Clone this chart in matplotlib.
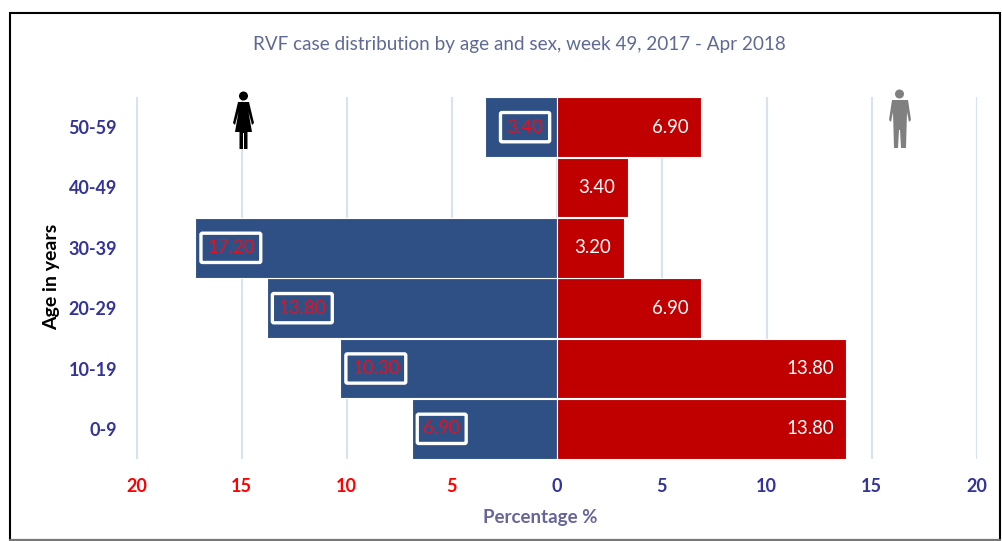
import matplotlib
matplotlib.use('Agg')
from matplotlib import pyplot as plt
from matplotlib.patches import Rectangle, Polygon, Circle

plt.rcParams['font.family'] = ['Lato', 'DejaVu Sans']

age_groups = ['0-9', '10-19', '20-29', '30-39', '40-49', '50-59']
female = [6.9, 10.3, 13.8, 17.2, 0, 3.4]
male = [13.8, 13.8, 6.9, 3.2, 3.4, 6.9]
female_labels = ['6.90', '10.30', '13.80', '17.20', '', '3.40']
male_labels = ['13.80', '13.80', '6.90', '3.20', '3.40', '6.90']
tick_vals = [-20, -15, -10, -5, 0, 5, 10, 15, 20]
tick_labels = ['20', '15', '10', '5', '0', '5', '10', '15', '20']

W, H = 1003, 541
fig = plt.figure(figsize=(W / 100, H / 100), dpi=100)

# overlay in pixel coordinates for frame and the two icons
bg = fig.add_axes([0, 0, 1, 1], zorder=0)
bg.set_xlim(0, W)
bg.set_ylim(H, 0)
bg.axis('off')
bg.add_patch(Rectangle((10, 13), 990, 527, fc='white', ec='black', lw=1.5))
bg.plot([10, 1000], [540, 540], color='#777777', lw=1.5)

ax = fig.add_axes([136.5 / W, 1 - 459 / H, 840 / W, 362 / H], zorder=1)
ax.patch.set_alpha(0)
y = list(range(len(age_groups)))
ax.barh(y, [-v for v in female], height=0.985, color='#2E5085', edgecolor='white', linewidth=0.8, zorder=3)
ax.barh(y, male, height=0.985, color='#C00000', edgecolor='white', linewidth=0.8, zorder=3)
ax.set_xlim(-20, 20)
ax.set_ylim(-0.5, 5.5)
ax.set_xticks(tick_vals)
ax.set_xticklabels(tick_labels, fontsize=13, fontweight='bold')
ax.set_yticks(y)
ax.set_yticklabels(age_groups, fontsize=13, fontweight='bold', color='#333399')
for t, v in zip(ax.get_xticklabels(), tick_vals):
    t.set_color('#FF0000' if v < 0 else '#333399')
ax.tick_params(length=0, axis='x', pad=13.5)
ax.tick_params(length=0, axis='y', pad=14)
ax.grid(axis='x', color='#D5E3F3', lw=1.5, zorder=0)
for s in ax.spines.values():
    s.set_visible(False)

for i, v in enumerate(female):
    if female_labels[i] == '':
        continue
    off = 15.5 if i == 5 else 8.5
    ax.annotate(female_labels[i], (-v, i), xytext=(off, 0), textcoords='offset points',
                ha='left', va='center', color='#E8101E', fontsize=13.4, zorder=5,
                bbox=dict(boxstyle='round,pad=0.33,rounding_size=0.08', fc='#2E5085', ec='white', lw=2.4))
for i, v in enumerate(male):
    ax.annotate(male_labels[i], (v, i), xytext=(-9, 0), textcoords='offset points',
                ha='right', va='center', color='white', fontsize=13.4, zorder=5)

fig.text(519.5 / W, 1 - 45 / H, 'RVF case distribution by age and sex, week 49, 2017 - Apr 2018',
         ha='center', va='center', color='#5F6A94', fontsize=13.6)
fig.text(540 / W, 1 - 517 / H, 'Percentage %', ha='center', va='center',
         color='#65659A', fontsize=13.5, fontweight='bold')
fig.text(52 / W, 1 - 277 / H, 'Age in years', rotation=90, ha='center', va='center',
         color='black', fontsize=14, fontweight='bold')

# icons
top = fig.add_axes([0, 0, 1, 1], zorder=2)
top.set_xlim(0, W)
top.set_ylim(H, 0)
top.axis('off')
top.add_patch(Circle((243.5, 96), 4.5, fc='black', ec='none'))
top.add_patch(Polygon([(238, 102), (249, 102), (254, 123), (252, 125), (248.5, 112), (252, 132),
                       (247.5, 132), (247.5, 149), (244, 149), (244, 133), (243, 133), (243, 149),
                       (239.5, 149), (239.5, 132), (235, 132), (238.5, 112), (235, 125), (233, 123)],
                      fc='black', ec='none'))
top.add_patch(Circle((899.5, 94), 4.5, fc='#808080', ec='none'))
top.add_patch(Polygon([(892, 100), (908, 100), (911, 120), (909, 122), (907, 112), (906, 148),
                       (901, 148), (900, 130), (899, 130), (898, 148), (894, 148), (893, 112),
                       (891, 122), (889, 120)],
                      fc='#808080', ec='none'))

fig.savefig('out.png', dpi=100)
